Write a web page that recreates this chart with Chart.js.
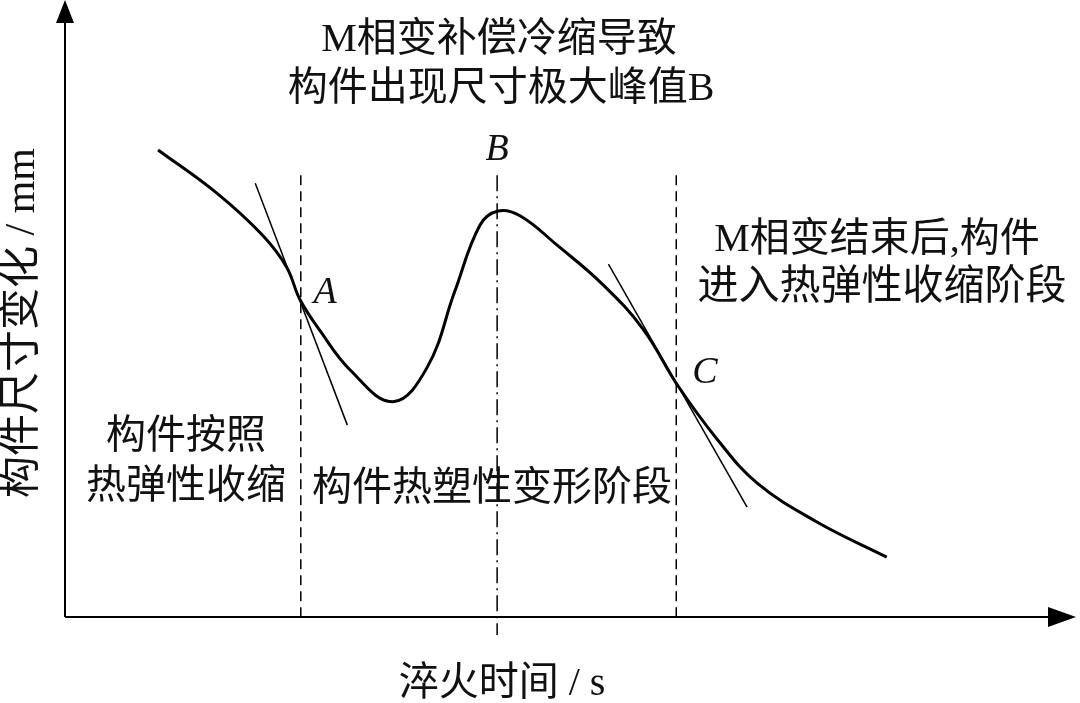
<!DOCTYPE html>
<html>
<head>
<meta charset="utf-8">
<script src="https://cdn.jsdelivr.net/npm/chart.js@4/dist/chart.umd.min.js"></script>
<style>
  html, body { margin: 0; padding: 0; background: #fff; }
  #wrap { width: 1080px; height: 703px; position: relative; }
</style>
</head>
<body>
<div id="wrap"><canvas id="chart"></canvas></div>
<script>
// schematic curve, axis units 0..100
const curveX = [9.2, 15.0, 19.5, 21.9, 23.2, 25.2, 28.2, 32.4, 35.8, 38.5, 41.0, 42.8, 45.0, 48.6, 53.2, 57.1, 60.6, 64.4, 68.4, 74.3, 81.2];
const curveY = [75.7, 68.7, 61.9, 56.7, 51.5, 46.4, 40.0, 34.9, 40.5, 52.7, 63.5, 65.8, 65.0, 60.3, 53.8, 46.7, 37.4, 28.9, 21.7, 15.4, 9.7];

// tangent lines at A and C (two end points each)
const tangentAX = [18.8, 27.9];
const tangentAY = [70.3, 31.1];
const tangentCX = [53.7, 67.4];
const tangentCY = [57.2, 17.8];

// stage boundaries
const pointA = 23.3;
const pointB = 42.7;
const pointC = 60.4;
const guideTop = 71.6;
const guideBottomB = -2.9;

const toPoints = (xs, ys) => xs.map((x, i) => ({ x, y: ys[i] }));

const serif = '"Liberation Serif", "Noto Sans CJK SC", serif';

const annotations = [
  { text: 'M相变补偿冷缩导致', x: 499, y: 40, font: `40px ${serif}` },
  { text: '构件出现尺寸极大峰值B', x: 501, y: 89, font: `40px ${serif}` },
  { text: 'M相变结束后,构件', x: 877, y: 240, font: `40px ${serif}` },
  { text: '进入热弹性收缩阶段', x: 882, y: 288, font: `41px ${serif}` },
  { text: '构件按照', x: 186, y: 437, font: `40px ${serif}` },
  { text: '热弹性收缩', x: 186, y: 487, font: `40px ${serif}` },
  { text: '构件热塑性变形阶段', x: 492, y: 489, font: `40px ${serif}` },
  { text: 'A', x: 325, y: 293, font: `italic 38px ${serif}` },
  { text: 'B', x: 497, y: 150, font: `italic 38px ${serif}` },
  { text: 'C', x: 705, y: 373, font: `italic 38px ${serif}` },
  { text: '淬火时间 / s', x: 502, y: 684, font: `40px ${serif}` }
];

const axesPlugin = {
  id: 'axes',
  beforeDatasetsDraw(chart) {
    const { ctx, chartArea } = chart;
    const { left, bottom } = chartArea;
    ctx.save();
    ctx.strokeStyle = '#000';
    ctx.fillStyle = '#000';
    ctx.lineWidth = 2;
    ctx.beginPath();
    ctx.moveTo(left, bottom);
    ctx.lineTo(left, 18);
    ctx.moveTo(left, bottom);
    ctx.lineTo(1052, bottom);
    ctx.stroke();
    // arrow heads
    ctx.beginPath();
    ctx.moveTo(left, 0);
    ctx.lineTo(left - 9, 23);
    ctx.lineTo(left + 9, 23);
    ctx.closePath();
    ctx.fill();
    ctx.beginPath();
    ctx.moveTo(1076, bottom);
    ctx.lineTo(1048, bottom - 10);
    ctx.lineTo(1048, bottom + 10);
    ctx.closePath();
    ctx.fill();
    ctx.restore();
  },
  afterDatasetsDraw(chart) {
    const { ctx } = chart;
    ctx.save();
    ctx.fillStyle = '#111';
    ctx.textAlign = 'center';
    ctx.textBaseline = 'middle';
    annotations.forEach((a) => {
      ctx.font = a.font;
      ctx.fillText(a.text, a.x, a.y);
    });
    // y axis title, rotated
    ctx.translate(23, 323);
    ctx.rotate(-Math.PI / 2);
    ctx.font = `42px ${serif}`;
    ctx.fillText('构件尺寸变化 / mm', 0, 0);
    ctx.restore();
  }
};

const guide = (x, bottom, dash) => ({
  data: [{ x, y: guideTop }, { x, y: bottom }],
  borderColor: '#000',
  borderWidth: 1.5,
  borderDash: dash,
  pointRadius: 0,
  tension: 0,
  clip: false
});

new Chart(document.getElementById('chart'), {
  type: 'line',
  data: {
    datasets: [
      {
        data: toPoints(curveX, curveY),
        borderColor: '#000',
        borderWidth: 3,
        pointRadius: 0,
        tension: 0.4
      },
      {
        data: toPoints(tangentAX, tangentAY),
        borderColor: '#000',
        borderWidth: 1.5,
        pointRadius: 0
      },
      {
        data: toPoints(tangentCX, tangentCY),
        borderColor: '#000',
        borderWidth: 1.5,
        pointRadius: 0
      },
      guide(pointA, 0, [10, 6]),
      guide(pointC, 0, [10, 6]),
      guide(pointB, guideBottomB, [16, 5, 2, 5])
    ]
  },
  options: {
    responsive: true,
    maintainAspectRatio: false,
    animation: false,
    layout: { padding: { left: 65, right: 3, top: 0, bottom: 86 } },
    plugins: {
      legend: { display: false },
      tooltip: { enabled: false }
    },
    scales: {
      x: { type: 'linear', min: 0, max: 100, display: false },
      y: { type: 'linear', min: 0, max: 100, display: false }
    }
  },
  plugins: [axesPlugin]
});
</script>
</body>
</html>
